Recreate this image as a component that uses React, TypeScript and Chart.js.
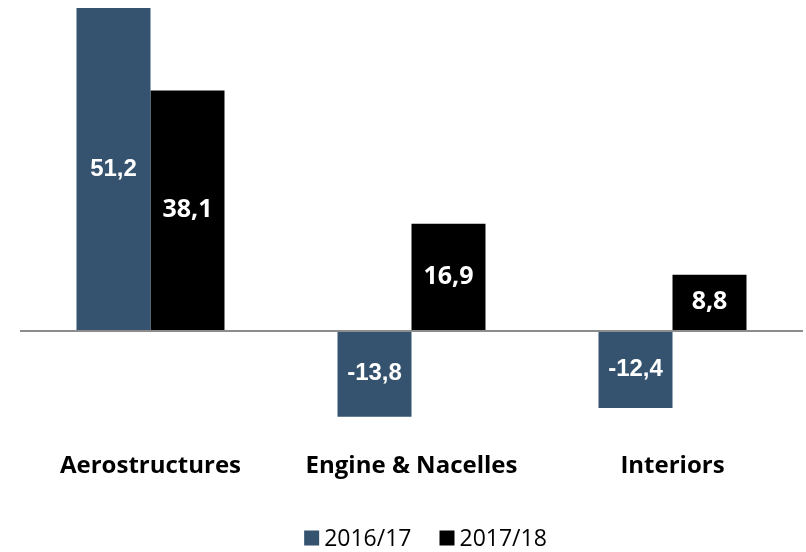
import React, { useEffect, useRef } from 'react';
import { Chart, registerables } from 'chart.js';

Chart.register(...registerables);

const categories = ['Aerostructures', 'Engine & Nacelles', 'Interiors'];
const seriesLabels = ['2016/17', '2017/18'];
const values2016 = [51.2, -13.8, -12.4];
const values2017 = [38.1, 16.9, 8.8];
const seriesColors = ['#35536E', '#000000'];
const yMin = -15.9;
const yMax = 51.2;

const fmt = (v: number) => v.toFixed(1).replace('.', ',');

const zeroLinePlugin = {
  id: 'zeroLine',
  afterDatasetsDraw(chart: any) {
    const { ctx, chartArea, scales } = chart;
    const y = scales.y.getPixelForValue(0);
    ctx.save();
    ctx.strokeStyle = '#8c8c8c';
    ctx.lineWidth = 2;
    ctx.beginPath();
    ctx.moveTo(chartArea.left, y + 1);
    ctx.lineTo(chartArea.right, y + 1);
    ctx.stroke();
    ctx.restore();
  },
};

const dataLabelPlugin = {
  id: 'dataLabels',
  afterDatasetsDraw(chart: any) {
    const { ctx } = chart;
    ctx.save();
    ctx.fillStyle = '#ffffff';
    ctx.textAlign = 'center';
    ctx.textBaseline = 'middle';
    chart.data.datasets.forEach((ds: any, di: number) => {
      const meta = chart.getDatasetMeta(di);
      ctx.font = di === 0 ? 'bold 24px "Liberation Sans"' : 'bold 25px "Open Sans"';
      meta.data.forEach((el: any, i: number) => {
        const v = ds.data[i] as number;
        const y = (el.y + el.base) / 2;
        ctx.fillText(fmt(v), el.x, y);
      });
    });
    ctx.restore();
  },
};

const customLegendPlugin = {
  id: 'customLegend',
  afterDraw(chart: any) {
    const { ctx, chartArea } = chart;
    const boxSize = 15;
    const gap = 5;
    const itemGap = 28;
    const textY = 538;
    ctx.save();
    ctx.font = '23px "Open Sans"';
    ctx.textBaseline = 'middle';
    ctx.textAlign = 'left';
    const items = chart.data.datasets.map((ds: any) => ({
      label: ds.label as string,
      color: ds.backgroundColor as string,
      w: ctx.measureText(ds.label).width,
    }));
    const total = items.reduce((s: number, it: any, i: number) => s + boxSize + gap + it.w + (i > 0 ? itemGap : 0), 0);
    let x = (chartArea.left + chartArea.right) / 2 + 14 - total / 2;
    items.forEach((it: any) => {
      ctx.fillStyle = it.color;
      ctx.fillRect(x, textY - boxSize / 2, boxSize, boxSize);
      x += boxSize + gap;
      ctx.fillStyle = '#000000';
      ctx.fillText(it.label, x, textY + 1);
      x += it.w + itemGap;
    });
    ctx.restore();
  },
};

export default function App() {
  const canvasRef = useRef<HTMLCanvasElement | null>(null);

  useEffect(() => {
    if (!canvasRef.current) return;
    const chart = new Chart(canvasRef.current, {
      type: 'bar',
      data: {
        labels: categories,
        datasets: [
          {
            label: seriesLabels[0],
            data: values2016,
            backgroundColor: seriesColors[0],
            categoryPercentage: 0.567,
            barPercentage: 1,
          },
          {
            label: seriesLabels[1],
            data: values2017,
            backgroundColor: seriesColors[1],
            categoryPercentage: 0.567,
            barPercentage: 1,
          },
        ],
      },
      options: {
        responsive: false,
        animation: false,
        layout: { padding: { top: 8, left: 20, right: 3, bottom: 35 } },
        scales: {
          x: {
            grid: { display: false },
            border: { display: false },
            ticks: {
              padding: 14,
              color: '#000000',
              font: { family: 'Open Sans', size: 24, weight: 'bold' },
            },
            afterFit: (scale: any) => {
              scale.height = 87;
            },
          },
          y: {
            display: false,
            min: yMin,
            max: yMax,
          },
        },
        plugins: {
          legend: { display: false },
          tooltip: { enabled: false },
        },
      },
      plugins: [zeroLinePlugin, dataLabelPlugin, customLegendPlugin],
    });
    return () => chart.destroy();
  }, []);

  return (
    <div style={{ position: 'absolute', left: 0, top: 0, width: 806, height: 552 }}>
      <canvas ref={canvasRef} width={806} height={552} style={{ display: 'block' }} />
    </div>
  );
}
